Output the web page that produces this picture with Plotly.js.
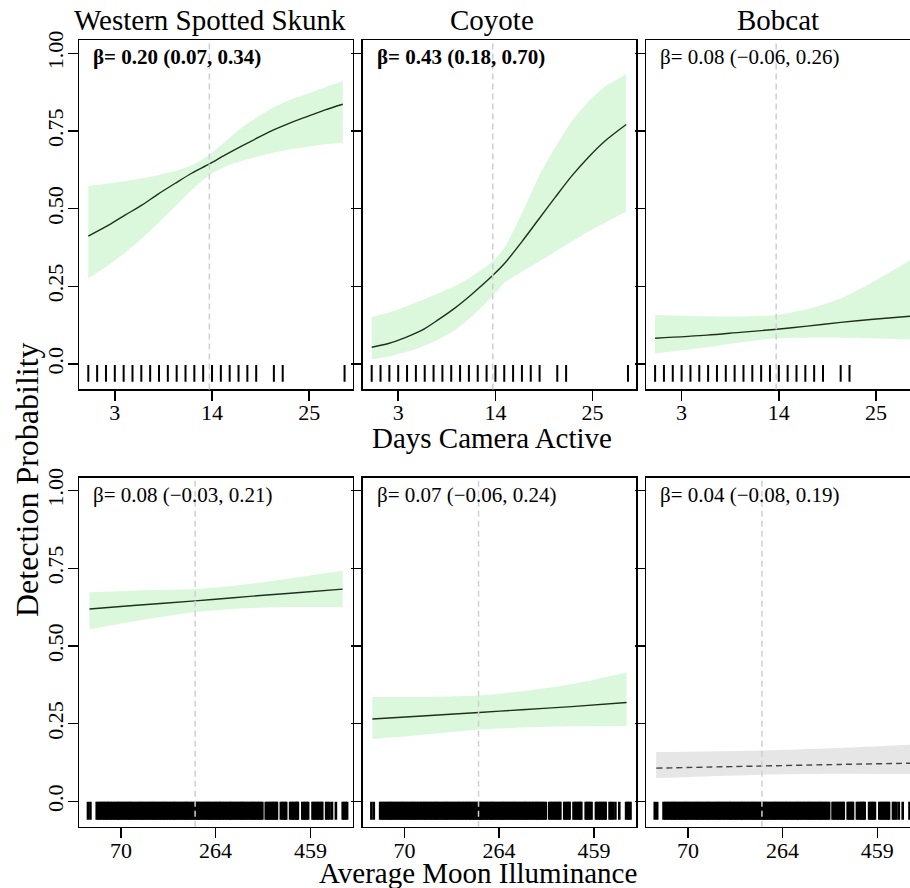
<!DOCTYPE html>
<html>
<head>
<meta charset="utf-8">
<script src="https://cdn.plot.ly/plotly-3.0.1.min.js"></script>
<style>
html, body { margin: 0; padding: 0; overflow: hidden; background: #fff; }
#chart { width: 920px; height: 888px; }
</style>
</head>
<body>
<div id="chart"></div>
<script>
// ---------- data ----------
const species = ["Western Spotted Skunk", "Coyote", "Bobcat"];
const betaDays = ["β= 0.20 (0.07, 0.34)", "β= 0.43 (0.18, 0.70)", "β= 0.08 (−0.06, 0.26)"];
const betaMoon = ["β= 0.08 (−0.03, 0.21)", "β= 0.07 (−0.06, 0.24)", "β= 0.04 (−0.08, 0.19)"];
const daysTicks = [3, 14, 25];
const moonTicks = [70, 264, 459];
const probTicks = [0, 0.25, 0.5, 0.75, 1];
const probTickText = ["0.0", "0.25", "0.50", "0.75", "1.00"];
const meanDays = 13.7;
const meanMoon = 222;

// rug: observed days camera active
const daysRug = [0,1,2,3,4,5,6,7,8,9,10,11,12,13,14,15,16,17,18,19,21,22,29];
// rug: observed average moon illuminance
const moonRug = [2,7,
 20,23,26,29,32,35,38,41,43,46,49,52,55,58,61,64,66,69,72,75,78,81,84,87,89,92,95,98,
 101,104,107,110,112,115,118,121,124,127,130,133,135,138,141,144,147,150,153,156,158,161,
 164,167,170,173,176,179,181,184,187,190,193,196,199,202,204,207,210,213,216,219,222,225,
 227,230,233,236,239,242,245,248,250,253,256,259,262,265,268,271,273,276,279,282,285,288,
 291,294,296,299,302,305,308,311,314,317,319,322,325,328,331,334,337,340,342,345,348,351,
 354,357,360,
 367,370,373,376,379,382,385,388,390,
 398,401,404,407,409,
 417,420,423,426,429,431,433,
 442,445,448,451,454,
 463,466,469,472,475,478,481,483,
 491,494,498,
 503, 511,
 525,528,531,534];

// Days camera active curves
const wssDaysX    = [0, 2.3, 4.2, 6.1, 7.9, 9.8, 11.7, 13.7, 15.5, 17.4, 19.3, 21.1, 23.0, 24.9, 26.8, 28.8];
const wssDaysMean = [0.412,0.447,0.480,0.512,0.547,0.581,0.614,0.644,0.673,0.702,0.730,0.755,0.778,0.798,0.818,0.836];
const wssDaysHi   = [0.573,0.581,0.589,0.598,0.608,0.621,0.640,0.673,0.716,0.762,0.798,0.828,0.852,0.871,0.891,0.911];
const wssDaysLo   = [0.276,0.319,0.359,0.405,0.453,0.506,0.560,0.608,0.635,0.654,0.669,0.681,0.692,0.699,0.707,0.712];

const coyDaysX    = [0, 1.9, 3.8, 5.7, 7.5, 9.4, 11.3, 13.8, 15.1, 17.0, 18.9, 20.8, 22.6, 24.5, 26.4, 28.8];
const coyDaysMean = [0.054,0.066,0.085,0.109,0.142,0.180,0.224,0.288,0.326,0.394,0.466,0.538,0.604,0.665,0.718,0.771];
const coyDaysHi   = [0.152,0.165,0.184,0.206,0.227,0.251,0.281,0.333,0.378,0.485,0.603,0.699,0.780,0.844,0.893,0.933];
const coyDaysLo   = [0.015,0.024,0.038,0.056,0.079,0.109,0.152,0.222,0.263,0.297,0.329,0.362,0.394,0.426,0.455,0.490];

const bobDaysX    = [0, 5.9, 9.6, 13.8, 17.2, 21.0, 24.7, 28.9];
const bobDaysMean = [0.083,0.093,0.102,0.112,0.122,0.134,0.144,0.154];
const bobDaysHi   = [0.158,0.154,0.153,0.158,0.176,0.211,0.265,0.335];
const bobDaysLo   = [0.034,0.054,0.069,0.083,0.085,0.085,0.083,0.079];

// Average moon illuminance curves
const wssMoonX    = [5, 95, 222, 301, 369, 437, 525];
const wssMoonMean = [0.619,0.630,0.645,0.655,0.664,0.672,0.683];
const wssMoonHi   = [0.673,0.678,0.683,0.694,0.707,0.722,0.742];
const wssMoonLo   = [0.554,0.579,0.609,0.619,0.624,0.625,0.625];

const coyMoonX    = [4, 106, 223, 311, 413, 526];
const coyMoonMean = [0.265,0.275,0.286,0.295,0.305,0.318];
const coyMoonHi   = [0.336,0.336,0.341,0.354,0.377,0.415];
const coyMoonLo   = [0.201,0.214,0.231,0.238,0.242,0.243];

const bobMoonX    = [5, 222, 382, 526];
const bobMoonMean = [0.107,0.114,0.119,0.123];
const bobMoonHi   = [0.159,0.164,0.172,0.182];
const bobMoonLo   = [0.075,0.086,0.089,0.088];

// ---------- build ----------
const FONT = "Liberation Serif, Times New Roman, serif";
const W = 920, H = 888;
const GREEN_FILL = "#dcf8dc";
const GREY_FILL = "#e6e6e6";
const LINE_COL = "#1f2f1f";

const panels = [
  {x: wssDaysX, m: wssDaysMean, hi: wssDaysHi, lo: wssDaysLo, rug: daysRug, sig: true},
  {x: coyDaysX, m: coyDaysMean, hi: coyDaysHi, lo: coyDaysLo, rug: daysRug, sig: true},
  {x: bobDaysX, m: bobDaysMean, hi: bobDaysHi, lo: bobDaysLo, rug: daysRug, sig: true},
  {x: wssMoonX, m: wssMoonMean, hi: wssMoonHi, lo: wssMoonLo, rug: moonRug, sig: true},
  {x: coyMoonX, m: coyMoonMean, hi: coyMoonHi, lo: coyMoonLo, rug: moonRug, sig: true},
  {x: bobMoonX, m: bobMoonMean, hi: bobMoonHi, lo: bobMoonLo, rug: moonRug, sig: false}
];

const colPx = [[79.2, 352.7], [362.6, 636.1], [646.0, 919.5]];
const rowPx = [[40.4, 389.4], [477.6, 826.8]];

const traces = [];
const layout = {
  width: W, height: H,
  margin: {l: 0, r: 0, t: 0, b: 0},
  paper_bgcolor: "#fff", plot_bgcolor: "#fff",
  showlegend: false,
  font: {family: FONT, color: "#000"},
  shapes: [], annotations: []
};

panels.forEach((p, i) => {
  const row = Math.floor(i / 3), col = i % 3;
  const n = i + 1;
  const xa = "x" + (n === 1 ? "" : n), ya = "y" + (n === 1 ? "" : n);
  const fill = p.sig ? GREEN_FILL : GREY_FILL;
  // ribbon: lower bound, then upper filled down to it
  traces.push({
    type: "scatter", mode: "lines", xaxis: xa, yaxis: ya,
    x: p.x, y: p.lo,
    line: {width: 0, color: fill, shape: "spline", smoothing: 0.6},
    hoverinfo: "skip"
  });
  traces.push({
    type: "scatter", mode: "lines", xaxis: xa, yaxis: ya,
    x: p.x, y: p.hi, fill: "tonexty", fillcolor: fill,
    line: {width: 0, color: fill, shape: "spline", smoothing: 0.6},
    hoverinfo: "skip"
  });
  // mean curve
  traces.push({
    type: "scatter", mode: "lines", xaxis: xa, yaxis: ya,
    x: p.x, y: p.m,
    line: p.sig ? {width: 1.4, color: LINE_COL, shape: "spline", smoothing: 0.8}
                : {width: 1.4, color: "#444", dash: "6px,4px", shape: "spline", smoothing: 0.6}
  });
  // rug
  traces.push({
    type: "scatter", mode: "markers", xaxis: xa, yaxis: ya,
    x: p.rug, y: p.rug.map(() => -0.03),
    marker: {symbol: "line-ns", size: row === 0 ? 12 : 13,
             line: {width: row === 0 ? 2 : 2.6, color: "#000"}},
    hoverinfo: "skip"
  });

  const xdom = [colPx[col][0] / W, colPx[col][1] / W];
  const ydom = [1 - rowPx[row][1] / H, 1 - rowPx[row][0] / H];
  const common = {
    showline: true, mirror: true, linecolor: "#000", linewidth: 1.5,
    ticks: "outside", ticklen: 10, tickwidth: 1.5, tickcolor: "#000",
    showgrid: false, zeroline: false,
    tickfont: {family: FONT, size: 22, color: "#000"}
  };
  layout["xaxis" + (n === 1 ? "" : n)] = Object.assign({}, common, {
    domain: xdom, anchor: ya,
    range: row === 0 ? [-1.03, 29.92] : [-16, 545.5],
    tickmode: "array", tickvals: row === 0 ? daysTicks : moonTicks,
    ticktext: (row === 0 ? daysTicks : moonTicks).map(String),
    ticklabelstandoff: -7
  });
  layout["yaxis" + (n === 1 ? "" : n)] = Object.assign({}, common, {
    domain: ydom, anchor: xa,
    range: [-0.0816, 1.0416],
    tickmode: "array", tickvals: probTicks, ticktext: probTickText,
    showticklabels: col === 0, tickangle: -90,
    ticklabelstandoff: -4
  });
  // mean reference line
  layout.shapes.push({
    type: "line", xref: xa, yref: ya + " domain",
    x0: row === 0 ? meanDays : meanMoon, x1: row === 0 ? meanDays : meanMoon,
    y0: 0, y1: 1, layer: "above",
    line: {color: "#cfcfcf", width: 1.5, dash: "6px,4px"}
  });
  // beta annotation
  const btxt = row === 0 ? betaDays[col] : betaMoon[col];
  const bold = row === 0 && col < 2;
  layout.annotations.push({
    xref: "paper", yref: "paper",
    x: (colPx[col][0] + 12) / W, y: 1 - (rowPx[row][0] + 17) / H,
    xanchor: "left", yanchor: "middle", showarrow: false,
    text: bold ? "<b>" + btxt + "</b>" : btxt,
    font: {family: FONT, size: 21, color: "#000"}
  });
});

// species titles
const titleX = [210, 492, 778];
species.forEach((s, c) => {
  layout.annotations.push({
    xref: "paper", yref: "paper", x: titleX[c] / W, y: 1 - 20 / H,
    xanchor: "center", yanchor: "middle", showarrow: false,
    text: s, font: {family: FONT, size: 29, color: "#000"}
  });
});
// axis titles
layout.annotations.push({
  xref: "paper", yref: "paper", x: 492 / W, y: 1 - 438 / H,
  xanchor: "center", yanchor: "middle", showarrow: false,
  text: "Days Camera Active", font: {family: FONT, size: 29, color: "#000"}
});
layout.annotations.push({
  xref: "paper", yref: "paper", x: 478 / W, y: 1 - 873 / H,
  xanchor: "center", yanchor: "middle", showarrow: false,
  text: "Average Moon Illuminance", font: {family: FONT, size: 29, color: "#000"}
});
layout.annotations.push({
  xref: "paper", yref: "paper", x: 27 / W, y: 1 - 480 / H,
  xanchor: "center", yanchor: "middle", showarrow: false, textangle: -90,
  text: "Detection Probability", font: {family: FONT, size: 32, color: "#000"}
});

Plotly.newPlot("chart", traces, layout, {displayModeBar: false, staticPlot: true});
</script>
</body>
</html>
